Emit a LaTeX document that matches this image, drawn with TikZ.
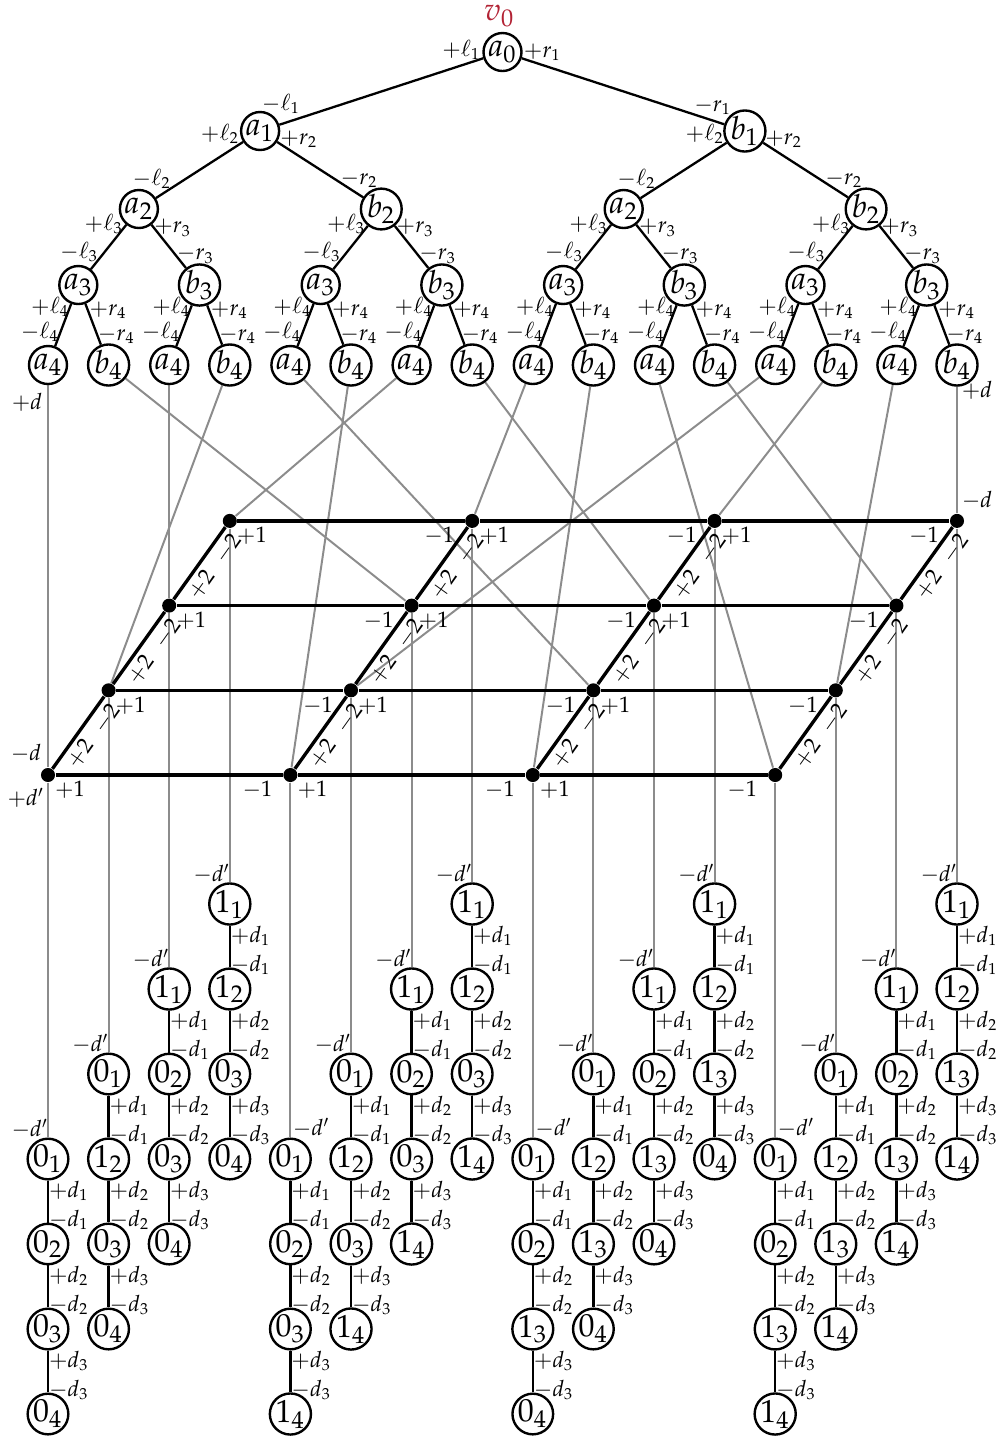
\documentclass[tikz,border=0pt]{standalone}
\usepackage{mathpazo}
\usetikzlibrary{calc, backgrounds}
\definecolor{vred}{RGB}{178,34,52}
\tikzstyle{vertex} = [
circle,
draw=black,
line width=0.75pt,
minimum size=0.418cm,
inner sep=0pt]
\tikzstyle{branch} = [
draw=black,
line width=0.72pt]
\tikzstyle{wire} = [
draw=black!45,
line width=0.62pt]
\tikzstyle{gridline} = [
draw=black,
line width=1.05pt]
\tikzstyle{dot} = [
circle,
fill=black,
inner sep=0pt,
minimum size=4.4pt]
\tikzstyle{lbl} = [
font=\scriptsize,
inner sep=0pt]

\begin{document}
\begin{tikzpicture}[x=0.011cm, y=-0.011cm]
\useasboundingbox (0,0) rectangle (1000,1436);

\foreach \n in {0,...,4} {
  \pgfmathtruncatemacro\lastidx{2^\n-1}
  \pgfmathtruncatemacro\wid{2^(4-\n)}
  \pgfmathsetmacro\yy{{52,131,209,285,365}[\n]}
  \foreach \m in {0,...,\lastidx} {
    \pgfmathsetmacro\xx{48+60.6*(\m*\wid+(\wid-1)/2)}
    \pgfmathtruncatemacro\side{mod(\m,2)}
    \ifnum\side=0 \def\nm{a}\else\def\nm{b}\fi
    \node[vertex] (tree\n-\m) at (\xx,\yy) {$\nm_{\n}$};
  }
}
\node[text=vred, inner sep=0pt] (rootLabel) at ($(tree0-0)+(-3,-36)$) {$v_0$};

\foreach \n/\plx/\ply/\prx/\pry/\clx/\cly/\crx/\cry in {1/-41/-2/40/0/21/-27/-32/-25, 2/-40/3/39/8/13/-30/-22/-30, 3/-35/15/34/19/1/-33/-4/-30, 4/-28/22/30/25/-8/-33/8/-30} {
  \pgfmathtruncatemacro\pa{\n-1}
  \pgfmathtruncatemacro\lastidx{2^\pa-1}
  \foreach \p in {0,...,\lastidx} {
    \pgfmathtruncatemacro\lc{2*\p}
    \pgfmathtruncatemacro\rc{2*\p+1}
    \draw[branch] (tree\pa-\p) -- (tree\n-\lc);
    \draw[branch] (tree\pa-\p) -- (tree\n-\rc);
    \node[lbl] at ($(tree\pa-\p)+(\plx,\ply)$) {$+\ell_{\n}$};
    \node[lbl] at ($(tree\pa-\p)+(\prx,\pry)$) {$+r_{\n}$};
    \node[lbl] at ($(tree\n-\lc)+(\clx,\cly)$) {$-\ell_{\n}$};
    \node[lbl] at ($(tree\n-\rc)+(\crx,\cry)$) {$-r_{\n}$};
  }
}

\foreach \cc in {0,...,15} {
  \pgfmathtruncatemacro\row{mod(\cc,4)}
  \node[dot] (grid\cc) at ({48+60.6*\cc},{775-84.7*\row}) {};
}
\foreach \row in {0,...,3} {
  \foreach \col in {0,1,2} {
    \pgfmathtruncatemacro\ga{4*\col+\row}
    \pgfmathtruncatemacro\gb{4*\col+\row+4}
    \draw[gridline] (grid\ga) -- (grid\gb);
    \node[lbl] at ($(grid\ga)+(22,15)$) {$+1$};
    \node[lbl] at ($(grid\gb)+(-33,15)$) {$-1$};
  }
}
\foreach \col in {0,...,3} {
  \foreach \row in {0,1,2} {
    \pgfmathtruncatemacro\ga{4*\col+\row}
    \pgfmathtruncatemacro\gb{4*\col+\row+1}
    \draw[gridline] (grid\ga) -- (grid\gb);
    \node[lbl, rotate=54.4] at ($(grid\ga)+(32,-21)$) {$+2$};
    \node[lbl, rotate=54.4] at ($(grid\gb)+(-2,28)$) {$-2$};
  }
}

\foreach \cc in {0,...,15} {
  \pgfmathtruncatemacro\row{mod(\cc,4)}
  \pgfmathtruncatemacro\col{\cc/4}
  \pgfmathtruncatemacro\bitA{\row/2}
  \pgfmathtruncatemacro\bitB{mod(\row,2)}
  \pgfmathtruncatemacro\bitC{\col/2}
  \pgfmathtruncatemacro\bitD{mod(\col,2)}
  \pgfmathsetmacro\ytop{1159-85*\row}
  \foreach \s/\bit in {1/\bitA,2/\bitB,3/\bitC,4/\bitD} {
    \node[vertex] (chain\cc-\s) at ({48+60.6*\cc},{\ytop+85*(\s-1)}) {$\bit_{\s}$};
  }
  \foreach \s in {1,2,3} {
    \pgfmathtruncatemacro\nx{\s+1}
    \draw[branch] (chain\cc-\s) -- (chain\cc-\nx);
    \node[lbl] at ($(chain\cc-\s)+(21,32)$) {$+d_{\s}$};
    \node[lbl] at ($(chain\cc-\nx)+(21,-24)$) {$-d_{\s}$};
  }
}
\foreach \cc in {0,1,2,3,5,6,7,9,10,11,13,14,15}
  \node[lbl] at ($(chain\cc-1)+(-18,-30)$) {$-d'$};
\foreach \cc in {4,8,12}
  \node[lbl] at ($(chain\cc-1)+(21,-31)$) {$-d'$};

\node[lbl] at ($(tree4-0)+(-21,37)$) {$+d$};
\node[lbl] at ($(tree4-15)+(20,25)$) {$+d$};
\node[lbl] at ($(grid0)+(-22,-22)$) {$-d$};
\node[lbl] at ($(grid15)+(20,-21)$) {$-d$};
\node[lbl] at ($(grid0)+(-22,23)$) {$+d'$};

\begin{scope}[on background layer]
\foreach \i/\cc in {0/0,1/6,2/2,3/1,4/9,5/4,6/3,7/10,8/7,9/8,10/12,11/14,12/5,13/11,14/13,15/15}
  \draw[wire] (tree4-\i) -- (grid\cc);
\foreach \cc in {0,...,15}
  \draw[wire] (grid\cc) -- (chain\cc-1);
\end{scope}

\end{tikzpicture}
\end{document}
